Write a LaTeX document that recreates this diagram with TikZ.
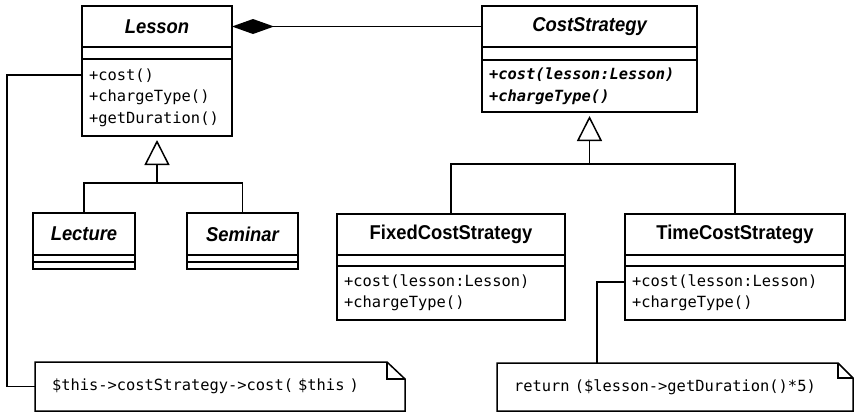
\documentclass[tikz,border=0pt]{standalone}
\usepackage{fontspec}
\setmainfont{Liberation Sans}
\setmonofont{DejaVu Sans Mono}
\newfontfamily\classfont[FakeStretch=0.92]{Liberation Sans}
\usetikzlibrary{positioning, arrows.meta}

\begin{document}
\begin{tikzpicture}[
    x=1pt, y=-1pt, line width=1.5pt,
    classbox/.style={draw, rectangle, outer sep=0pt, inner sep=0pt, font=\classfont\bfseries\fontsize{20}{22}\selectfont},
    abstract/.style={classbox, font=\classfont\bfseries\itshape\fontsize{20}{22}\selectfont},
    compart/.style={draw, rectangle, outer sep=0pt, inner sep=0pt},
    methods/.style={draw, rectangle, outer sep=0pt, inner xsep=7pt, inner ysep=0pt, align=left, font=\ttfamily\fontsize{15.4}{21.5}\selectfont},
    notebox/.style={rectangle, outer sep=0pt, inner xsep=17pt, inner ysep=0pt, align=left, font=\ttfamily\fontsize{15.4}{21.5}\selectfont},
    comp/.style={{Diamond[length=42pt, width=15pt]}-},
    gen/.style={-{Triangle[open, length=25pt, width=25pt]}, shorten >=4pt}
]
    \useasboundingbox (0,0) rectangle (856,413);

    % Lesson hierarchy
    \node[abstract, minimum width=150pt, minimum height=41pt, anchor=north west] (lesson) at (82,6) {Lesson};
    \node[compart, minimum width=150pt, minimum height=12pt, below=0pt of lesson] (lesson-a) {};
    \node[methods, text width=136pt, minimum height=77pt, below=0pt of lesson-a] (lesson-m) {+cost()\\+chargeType()\\+getDuration()};

    \node[abstract, minimum width=102pt, minimum height=42pt, anchor=north west] (lecture) at (33,213) {Lecture};
    \node[compart, minimum width=102pt, minimum height=7pt, below=0pt of lecture] (lecture-a) {};
    \node[compart, minimum width=102pt, minimum height=7pt, below=0pt of lecture-a] (lecture-m) {};

    \node[abstract, minimum width=111pt, minimum height=42pt, anchor=north west] (seminar) at (187,213) {Seminar};
    \node[compart, minimum width=111pt, minimum height=7pt, below=0pt of seminar] (seminar-a) {};
    \node[compart, minimum width=111pt, minimum height=7pt, below=0pt of seminar-a] (seminar-m) {};

    % strategy hierarchy
    \node[abstract, minimum width=215pt, minimum height=41pt, anchor=north west] (cost) at (482,6) {CostStrategy};
    \node[compart, minimum width=215pt, minimum height=13pt, below=0pt of cost] (cost-a) {};
    \node[methods, text width=201pt, minimum height=52pt, below=0pt of cost-a, font=\ttfamily\bfseries\itshape\fontsize{15.4}{21.5}\selectfont] (cost-m) {+cost(lesson:Lesson)\\+chargeType()};

    \node[classbox, minimum width=228pt, minimum height=41pt, anchor=north west] (fixed) at (337,214) {FixedCostStrategy};
    \node[compart, minimum width=228pt, minimum height=11pt, below=0pt of fixed] (fixed-a) {};
    \node[methods, text width=214pt, minimum height=54pt, below=0pt of fixed-a] (fixed-m) {+cost(lesson:Lesson)\\+chargeType()};

    \node[classbox, minimum width=220pt, minimum height=41pt, anchor=north west] (time) at (625,214) {TimeCostStrategy};
    \node[compart, minimum width=220pt, minimum height=11pt, below=0pt of time] (time-a) {};
    \node[methods, text width=206pt, minimum height=54pt, below=0pt of time-a] (time-m) {+cost(lesson:Lesson)\\+chargeType()};

    % notes
    \node[notebox, text width=336pt, minimum height=49pt, anchor=north west] (lnote) at (35,362) {\$this->costStrategy->cost( \$this )};
    \node[notebox, text width=322pt, minimum height=48pt, anchor=north west] (rnote) at (497,363) {return (\$lesson->getDuration()*5)};
    \draw (lnote.north west) -- ([xshift=-18pt]lnote.north east) -- ([yshift=-17pt]lnote.north east) -- (lnote.south east) -- (lnote.south west) -- cycle;
    \draw ([xshift=-18pt]lnote.north east) |- ([yshift=-17pt]lnote.north east);
    \draw (rnote.north west) -- ([xshift=-15pt]rnote.north east) -- ([yshift=-15pt]rnote.north east) -- (rnote.south east) -- (rnote.south west) -- cycle;
    \draw ([xshift=-15pt]rnote.north east) |- ([yshift=-15pt]rnote.north east);

    % connectors
    \draw[comp] (lesson.east) -- (cost.west);

    \coordinate (lsjoin) at (157,183);
    \draw[gen] (lsjoin) -- (lesson-m.south);
    \draw (lecture.north) |- (lsjoin) -| (seminar.north);

    \coordinate (csjoin) at (589.5,164);
    \draw[gen] (csjoin) -- (cost-m.south);
    \draw (fixed.north) |- (csjoin) -| (time.north);

    \coordinate (lbend) at (7,75);
    \draw (lesson-m.west |- lbend) -- (lbend) |- (lnote.west);
    \coordinate (rbend) at (597,282);
    \draw (time-m.west |- rbend) -- (rbend) -- (rbend |- rnote.north);
\end{tikzpicture}
\end{document}
